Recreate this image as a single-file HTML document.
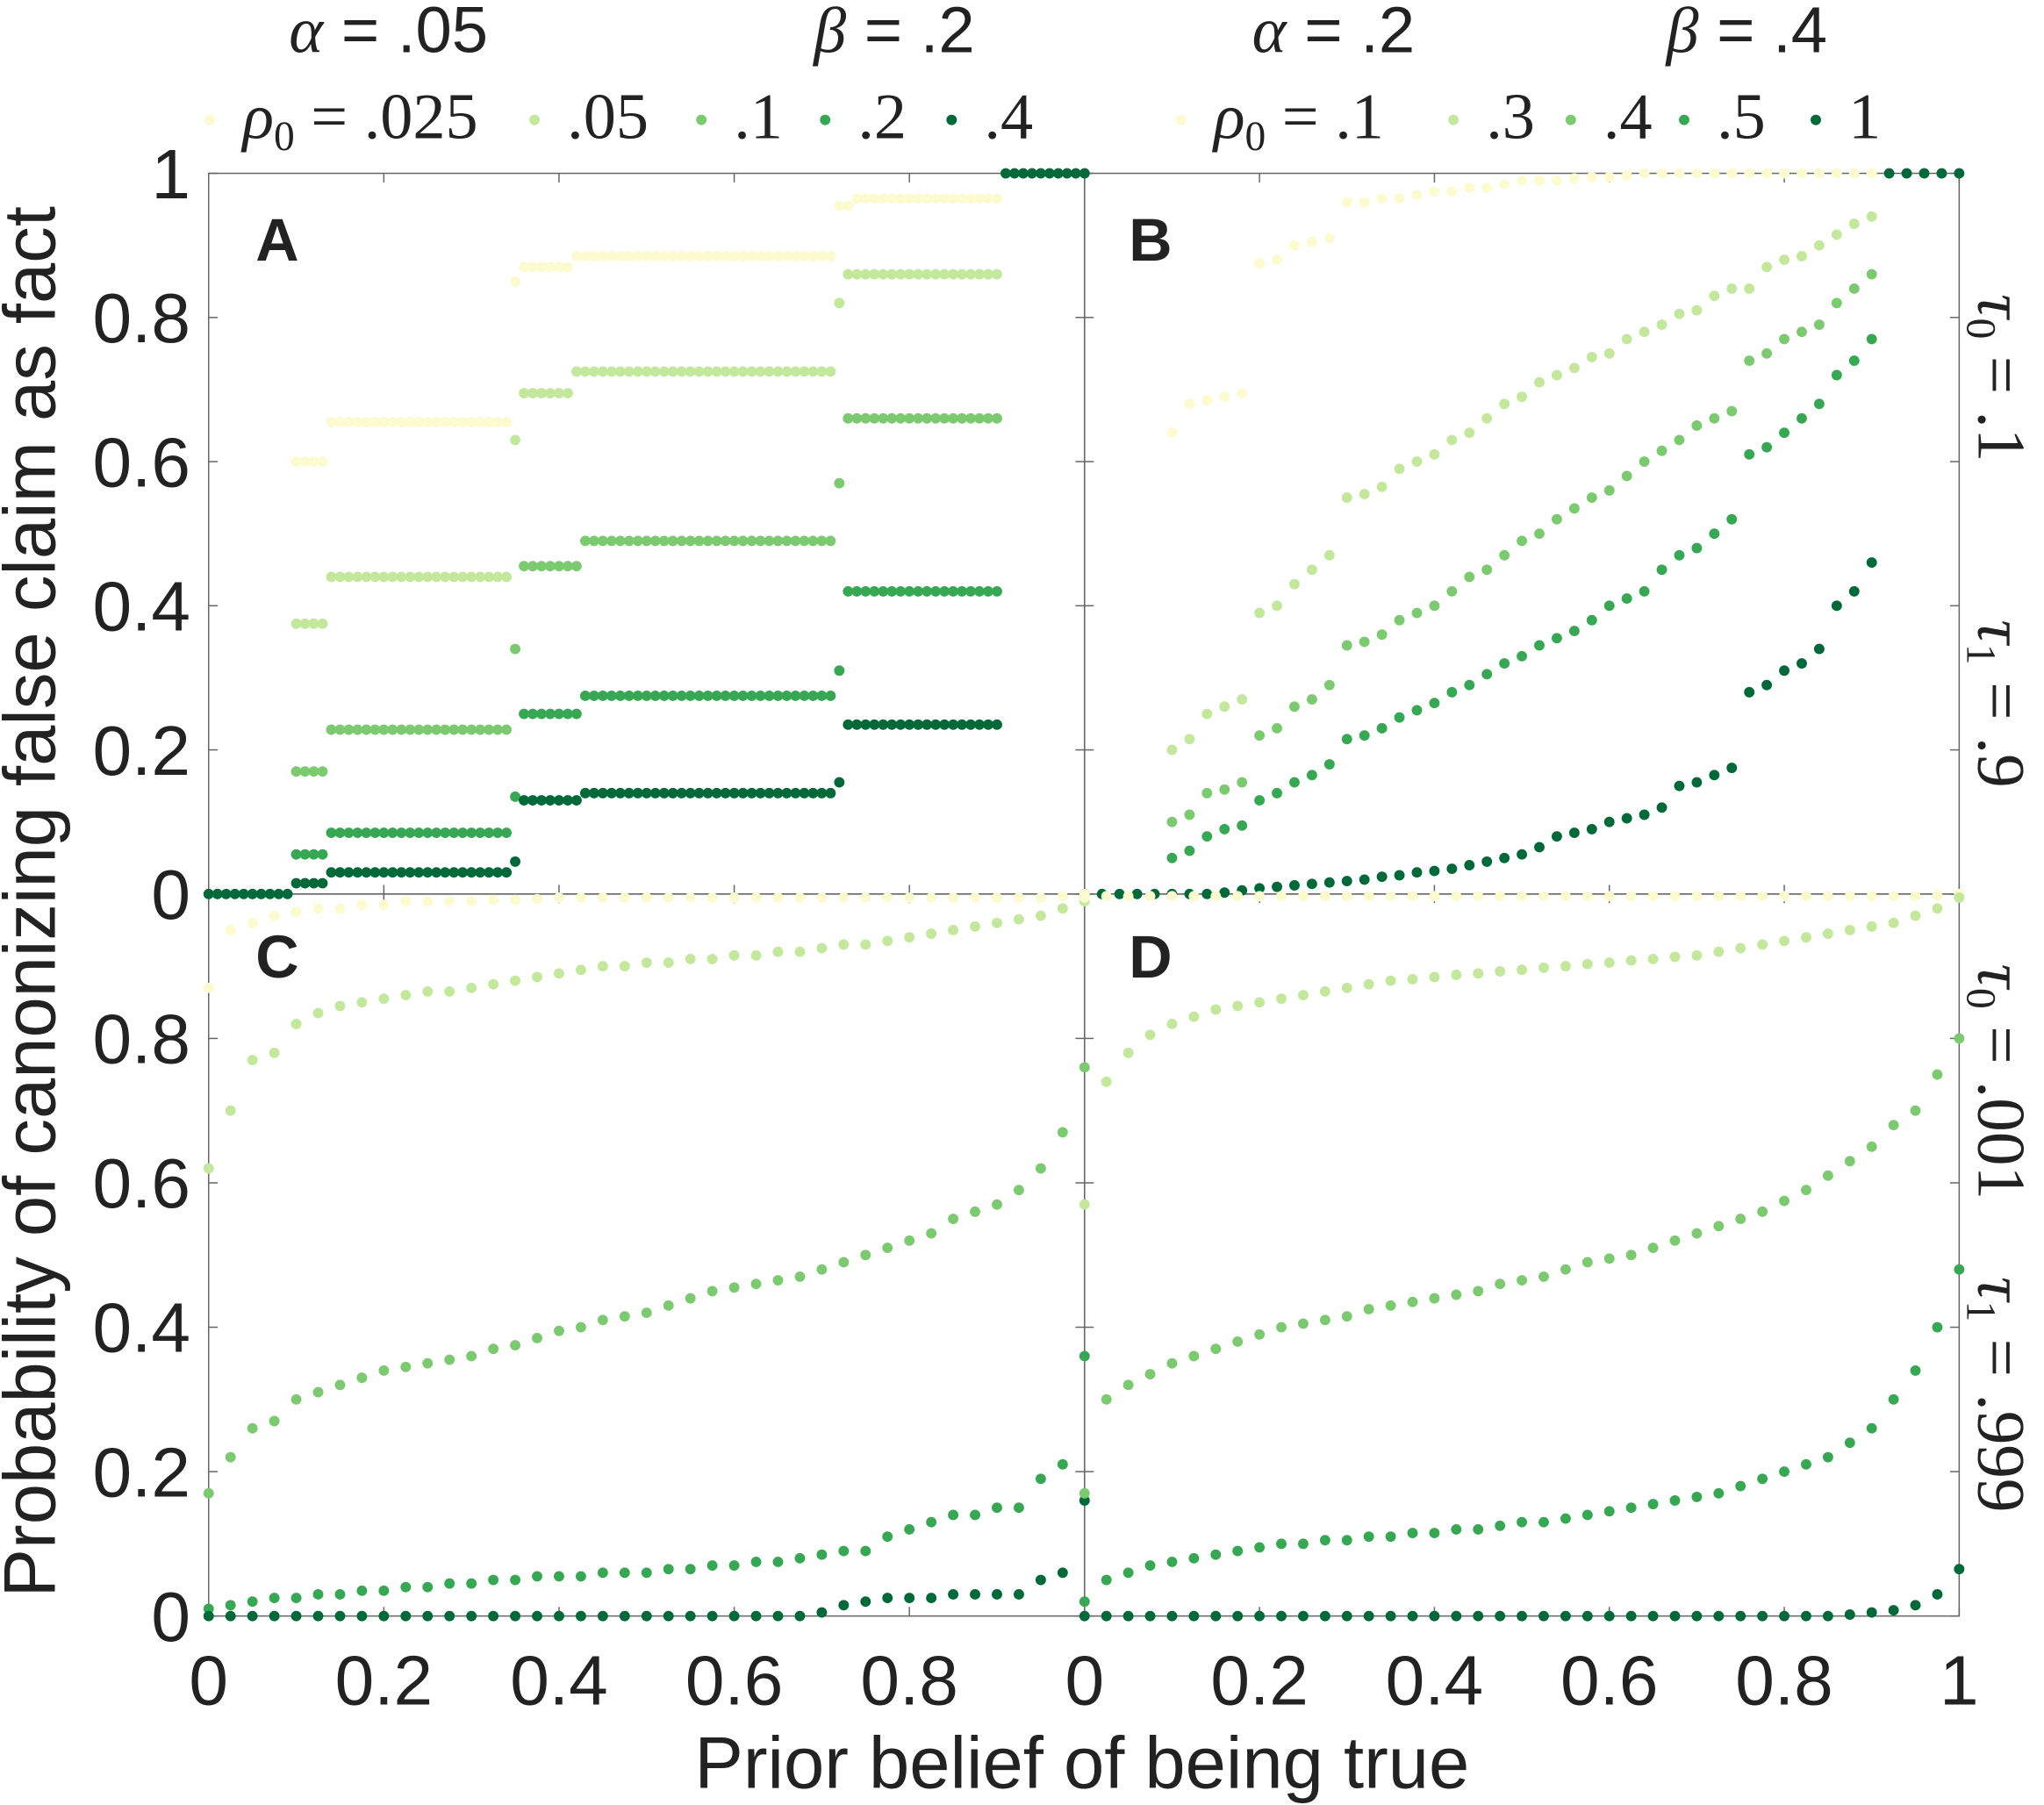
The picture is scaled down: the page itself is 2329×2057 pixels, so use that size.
<!DOCTYPE html>
<html><head><meta charset="utf-8"><style>
html,body{margin:0;padding:0;background:#fff}
svg{display:block}
text{font-family:"Liberation Sans",sans-serif;fill:#222}
.m{font-family:"Liberation Serif","DejaVu Serif",serif}
</style></head><body>
<svg id="chart" width="2329" height="2057" viewBox="0 0 1568 1385" xmlns="http://www.w3.org/2000/svg">
<g id="frames"></g>
<g id="marks"></g>
<g id="labels">
<text x="298" y="40" font-size="50" text-anchor="middle"><tspan class="m" font-style="italic">α</tspan> = .05</text>
<text x="686" y="40" font-size="50" text-anchor="middle"><tspan class="m" font-style="italic">β</tspan> = .2</text>
<text x="1023" y="40" font-size="50" text-anchor="middle"><tspan class="m" font-style="italic">α</tspan> = .2</text>
<text x="1340" y="40" font-size="50" text-anchor="middle"><tspan class="m" font-style="italic">β</tspan> = .4</text>
<text x="830" y="1372" font-size="56" text-anchor="middle">Prior belief of being true</text>
<text transform="translate(42,692) rotate(-90)" font-size="56" text-anchor="middle">Probability of canonizing false claim as fact</text>
<text x="196" y="200" font-size="46" font-weight="bold">A</text>
<text x="866" y="200" font-size="46" font-weight="bold">B</text>
<text x="196" y="750" font-size="46" font-weight="bold">C</text>
<text x="866" y="750" font-size="46" font-weight="bold">D</text>
<text class="m" transform="translate(1518,290) rotate(90)" font-size="52" text-anchor="middle"><tspan font-style="italic">τ</tspan><tspan font-size="32" dy="9">0</tspan><tspan dy="-9"> = .1</tspan></text>
<text class="m" transform="translate(1518,540) rotate(90)" font-size="52" text-anchor="middle"><tspan font-style="italic">τ</tspan><tspan font-size="32" dy="9">1</tspan><tspan dy="-9"> = .9</tspan></text>
<text class="m" transform="translate(1518,830) rotate(90)" font-size="52" text-anchor="middle"><tspan font-style="italic">τ</tspan><tspan font-size="32" dy="9">0</tspan><tspan dy="-9"> = .001</tspan></text>
<text class="m" transform="translate(1518,1070) rotate(90)" font-size="52" text-anchor="middle"><tspan font-style="italic">τ</tspan><tspan font-size="32" dy="9">1</tspan><tspan dy="-9"> = .999</tspan></text>
</g>
<g id="legend"></g>
</svg>
<script>
const NS="http://www.w3.org/2000/svg";
const colors=["#fbfbcf","#c3e89b","#7cca70","#36a853","#00693a"];
const legendLeft=["ρ0=.025",".05",".1",".2",".4"];
const legendRight=["ρ0=.1",".3",".4",".5","1"];
const yTicks=[0,0.2,0.4,0.6,0.8,1];
const xTicks=[0,0.2,0.4,0.6,0.8,1];
const xTickLabels=["0","0.2","0.4","0.6","0.8"];
// Panel A: step segments [x0,x1,y]
const aS1=[[0.10,0.13,0.60],[0.14,0.34,0.655],[0.35,0.35,0.85],[0.36,0.41,0.87],[0.42,0.71,0.885],[0.72,0.73,0.955],[0.74,0.90,0.965]];
const aS2=[[0.10,0.13,0.375],[0.14,0.34,0.44],[0.35,0.35,0.63],[0.36,0.41,0.695],[0.42,0.71,0.725],[0.72,0.72,0.82],[0.73,0.90,0.86]];
const aS3=[[0.10,0.13,0.17],[0.14,0.34,0.228],[0.35,0.35,0.34],[0.36,0.42,0.455],[0.43,0.71,0.49],[0.72,0.72,0.57],[0.73,0.90,0.66]];
const aS4=[[0.10,0.13,0.055],[0.14,0.34,0.085],[0.35,0.35,0.135],[0.36,0.42,0.25],[0.43,0.71,0.275],[0.72,0.72,0.31],[0.73,0.90,0.42]];
const aS5=[[0.00,0.09,0.0],[0.10,0.13,0.015],[0.14,0.34,0.03],[0.35,0.35,0.045],[0.36,0.42,0.13],[0.43,0.71,0.14],[0.72,0.72,0.155],[0.73,0.90,0.235],[0.91,1.0,1.0]];
// Panel B: x grid 0.10..0.90 step 0.02
const bS1=[.64,.68,.685,.69,.695,.875,.88,.90,.905,.91,.96,.96,.965,.965,.97,.975,.975,.98,.98,.985,.99,.99,.99,.993,.995,.995,.997,1,1,1,1,1,1,1,1,1,1,1,1,1,1];
const bS2=[.20,.215,.25,.26,.27,.39,.40,.43,.45,.47,.55,.555,.565,.59,.60,.61,.63,.64,.66,.68,.69,.71,.72,.73,.745,.75,.77,.78,.79,.805,.81,.83,.84,.84,.87,.88,.885,.90,.915,.93,.94];
const bS3=[.10,.11,.14,.145,.155,.22,.23,.26,.27,.29,.345,.35,.36,.38,.39,.40,.42,.44,.45,.47,.49,.50,.52,.535,.55,.56,.58,.60,.615,.63,.65,.66,.67,.74,.75,.77,.78,.79,.82,.84,.86];
const bS4=[.05,.06,.08,.09,.095,.13,.14,.155,.165,.18,.215,.22,.23,.245,.255,.265,.28,.29,.305,.32,.33,.345,.355,.365,.38,.40,.41,.42,.45,.47,.48,.50,.52,.61,.62,.64,.66,.68,.72,.74,.77];
const bS5=[0,0,0,.002,.005,.008,.01,.012,.014,.016,.018,.02,.024,.026,.03,.032,.035,.04,.045,.05,.055,.065,.08,.085,.09,.10,.105,.11,.12,.15,.155,.165,.175,.28,.29,.31,.32,.34,.40,.42,.46];
const bZeroX=[0,0.02,0.04,0.06,0.08];
const bOneX=[0.92,0.94,0.96,0.98,1.0];
// Panels C, D: x grid 0..1 step 0.025
const cS1=[.87,.95,.96,.97,.975,.98,.98,.985,.985,.99,.99,.99,.99,.992,.992,.993,.995,.995,.995,.995,.995,.995,.995,.995,.995,.995,.995,.995,.995,.995,.995,.995,.995,.995,.995,.995,.995,.995,.995,.997,1];
const cS2=[.62,.70,.77,.78,.82,.835,.845,.85,.855,.86,.865,.865,.87,.875,.88,.885,.89,.895,.90,.90,.905,.905,.91,.91,.915,.915,.92,.92,.925,.93,.93,.935,.94,.945,.95,.955,.96,.965,.97,.98,.99];
const cS3=[.17,.22,.26,.27,.30,.31,.32,.33,.34,.345,.35,.355,.36,.37,.375,.385,.395,.40,.41,.415,.42,.43,.44,.45,.455,.46,.465,.47,.48,.49,.50,.51,.52,.53,.55,.56,.57,.59,.62,.67,.76];
const cS4=[.01,.015,.02,.025,.025,.03,.03,.035,.035,.04,.04,.045,.045,.05,.05,.055,.055,.055,.06,.06,.06,.065,.065,.07,.07,.075,.075,.08,.085,.09,.09,.11,.12,.13,.14,.14,.15,.15,.19,.21,.36];
const cS5=[0,0,0,0,0,0,0,0,0,0,0,0,0,0,0,0,0,0,0,0,0,0,0,0,0,0,0,0,.005,.015,.02,.025,.025,.025,.03,.03,.03,.03,.05,.06,.16];
const dS1=[.995,.997,.997,.997,.997,.997,.997,.997,.997,.997,.997,.997,.997,.997,.997,.997,.997,.997,.997,.997,.997,.997,.997,.997,.997,.997,.997,.997,.997,.997,.997,.997,.997,.997,.997,.997,.997,.997,.997,.998,1];
const dS2=[.57,.74,.78,.805,.82,.83,.84,.845,.85,.855,.86,.865,.87,.875,.88,.882,.885,.888,.89,.893,.895,.898,.90,.903,.905,.908,.91,.913,.915,.92,.925,.93,.935,.94,.945,.95,.955,.96,.97,.98,.995];
const dS3=[.17,.30,.32,.335,.35,.36,.37,.38,.39,.40,.405,.41,.415,.425,.43,.435,.44,.445,.45,.46,.465,.47,.48,.49,.495,.50,.51,.52,.53,.54,.55,.56,.575,.59,.61,.63,.65,.68,.70,.75,.80];
const dS4=[.02,.05,.06,.07,.075,.08,.085,.09,.095,.10,.10,.105,.105,.11,.11,.115,.115,.12,.12,.125,.13,.13,.135,.14,.145,.15,.155,.16,.165,.17,.18,.19,.20,.21,.22,.24,.26,.30,.34,.40,.48];
const dS5=[0,0,0,0,0,0,0,0,0,0,0,0,0,0,0,0,0,0,0,0,0,0,0,0,0,0,0,0,0,0,0,0,0,0,0,.002,.005,.008,.015,.03,.065];

const panels={
 A:{x0:160,x1:832,yTop:133,yBot:686},
 B:{x0:832,x1:1503,yTop:133,yBot:686},
 C:{x0:160,x1:832,yTop:686,yBot:1240},
 D:{x0:832,x1:1503,yTop:686,yBot:1240}
};
function sx(p,v){return p.x0+v*(p.x1-p.x0);}
function sy(p,v){return p.yBot-v*(p.yBot-p.yTop);}
const marks=document.getElementById('marks');
function dot(p,x,y,ci,name){
 const c=document.createElementNS(NS,'circle');
 c.setAttribute('cx',sx(p,x));c.setAttribute('cy',sy(p,y));
 c.setAttribute('r',4);c.setAttribute('fill',colors[ci]);
 
 
 marks.appendChild(c);
}
[aS1,aS2,aS3,aS4,aS5].forEach((segs,ci)=>{
 segs.forEach(s=>{
  const n=Math.round((s[1]-s[0])/0.01);
  for(let k=0;k<=n;k++){dot(panels.A,s[0]+k*0.01,s[2],ci,'panel-a-point');}
 });
});
[bS1,bS2,bS3,bS4,bS5].forEach((arr,ci)=>{
 arr.forEach((v,i)=>dot(panels.B,0.10+i*0.02,v,ci,'panel-b-point'));
});
bZeroX.forEach(x=>dot(panels.B,x,0,4,'panel-b-point'));
bOneX.forEach(x=>dot(panels.B,x,1,4,'panel-b-point'));
[[cS1,cS2,cS3,cS4,cS5,'C'],[dS1,dS2,dS3,dS4,dS5,'D']].forEach(set=>{
 const p=panels[set[5]];
 for(let ci=0;ci<5;ci++){
  set[ci].forEach((v,i)=>dot(p,i*0.025,v,ci,'panel-'+set[5].toLowerCase()+'-point'));
 }
});
const frames=document.getElementById('frames');
Object.keys(panels).forEach(k=>{
 const p=panels[k];
 const r=document.createElementNS(NS,'rect');
 r.setAttribute('x',p.x0);r.setAttribute('y',p.yTop);
 r.setAttribute('width',p.x1-p.x0);r.setAttribute('height',p.yBot-p.yTop);
 r.setAttribute('fill','none');r.setAttribute('stroke','#666');r.setAttribute('stroke-width','1');
 
 
 frames.appendChild(r);
 yTicks.forEach(t=>{
  [[p.x0,p.x0+7],[p.x1,p.x1-7]].forEach(a=>{
   const l=document.createElementNS(NS,'line');
   l.setAttribute('x1',a[0]);l.setAttribute('x2',a[1]);
   l.setAttribute('y1',sy(p,t));l.setAttribute('y2',sy(p,t));
   l.setAttribute('stroke','#666');
   
   
   frames.appendChild(l);
  });
 });
 xTicks.forEach(t=>{
  [[p.yBot,p.yBot-7],[p.yTop,p.yTop+7]].forEach(a=>{
   const l=document.createElementNS(NS,'line');
   l.setAttribute('x1',sx(p,t));l.setAttribute('x2',sx(p,t));
   l.setAttribute('y1',a[0]);l.setAttribute('y2',a[1]);
   l.setAttribute('stroke','#666');
   
   
   frames.appendChild(l);
  });
 });
});
const labels=document.getElementById('labels');
function txt(x,y,s,size,anchor,name){
 const t=document.createElementNS(NS,'text');
 t.setAttribute('x',x);t.setAttribute('y',y);t.setAttribute('font-size',size);
 t.setAttribute('text-anchor',anchor);t.textContent=s;
 
 
 labels.appendChild(t);return t;
}
[panels.A,panels.C].forEach(p=>{
 yTicks.forEach(t=>{
  if(p===panels.C&&t===1)return;
  txt(146,sy(p,t)+19,String(t),54,'end','y-tick-label');
 });
});
[panels.C,panels.D].forEach(p=>{
 xTickLabels.forEach((s,i)=>txt(sx(p,xTicks[i]),1308,s,54,'middle','x-tick-label'));
});
txt(sx(panels.D,1),1308,'1',54,'middle','x-tick-label');
const legend=document.getElementById('legend');
function legendRow(items,startX,gaps){
 let x=startX;
 items.forEach((s,i)=>{
  const c=document.createElementNS(NS,'circle');
  c.setAttribute('cx',x);c.setAttribute('cy',92);c.setAttribute('r',4);c.setAttribute('fill',colors[i]);
  
  
  legend.appendChild(c);
  const t=document.createElementNS(NS,'text');
  t.setAttribute('x',x+25);t.setAttribute('y',106);t.setAttribute('font-size',50);
  t.setAttribute('class','m');
  if(i===0){
   const m=s.split('=');
   t.innerHTML='<tspan font-style="italic">ρ</tspan><tspan font-size="32" dy="9">0</tspan><tspan dy="-9"> = '+m[1]+'</tspan>';
  } else t.textContent=s;
  
  
  legend.appendChild(t);
  x+=gaps[i];
 });
}
legendRow(legendLeft,161,[249,128,95,97]);
legendRow(legendRight,906,[209,90,87,101]);
</script>
</body></html>
